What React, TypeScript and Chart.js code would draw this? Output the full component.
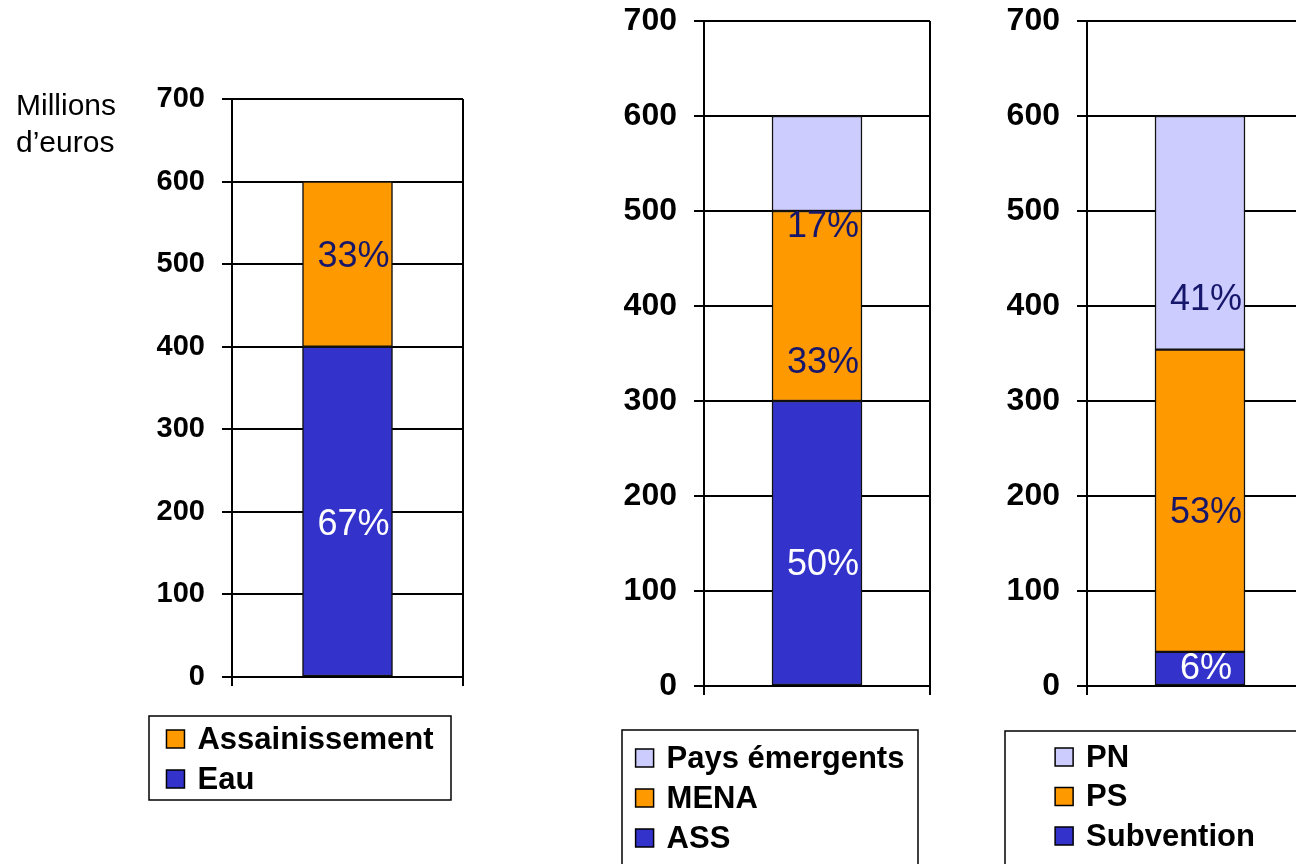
import { useEffect, useRef } from "react";
import { Chart, registerables } from "chart.js";

Chart.register(...registerables);

const FONT = '"Liberation Sans", Arial, Helvetica, sans-serif';

// ---------- Data ----------
const yMin = 0;
const yMax = 700;
const yStep = 100;

// Chart 1: Eau / Assainissement
const eauNames = ["Eau", "Assainissement"];
const eauValues = [400, 200];
const eauLabels = ["67%", "33%"];
const eauLabelAnchors = [184, 509];

// Chart 2: regions
const regionNames = ["ASS", "MENA", "Pays émergents"];
const regionValues = [300, 200, 100];
const regionLabels = ["50%", "33%", "17%"];
const regionLabelAnchors = [127, 340, 483];

// Chart 3: financing
const financeNames = ["Subvention", "PS", "PN"];
const financeValues = [36, 318, 246];
const financeLabels = ["6%", "53%", "41%"];
const financeLabelAnchors = [18, 182, 406];

const unitLines = ["Millions", "d\u2019euros"];

// ---------- Styles ----------
const BLUE = "#3333CC";
const ORANGE = "#FF9900";
const LAVENDER = "#CCCCFF";
const NAVY = "#16166a";

type Spec = {
  names: string[];
  values: number[];
  labels: string[];
  anchors: number[];
  colors: string[];
  labelColors: string[];
  canvasLeft: number;
  canvasW: number;
  area: { left: number; right: number; top: number; bottom: number };
  tickSize: number;
  legend: { x: number; y: number; w: number; h: number; rowStart: number; rowGap: number };
  sideText?: boolean;
};

const CANVAS_H = 864;
const X_AXIS_H = 10;

const specs: Spec[] = [
  {
    names: eauNames,
    values: eauValues,
    labels: eauLabels,
    anchors: eauLabelAnchors,
    colors: [BLUE, ORANGE],
    labelColors: ["#ffffff", NAVY],
    canvasLeft: 0,
    canvasW: 480,
    area: { left: 232, right: 463, top: 99, bottom: 677 },
    tickSize: 29,
    legend: { x: 149, y: 716, w: 302, h: 84, rowStart: 23, rowGap: 40 },
    sideText: true,
  },
  {
    names: regionNames,
    values: regionValues,
    labels: regionLabels,
    anchors: regionLabelAnchors,
    colors: [BLUE, ORANGE, LAVENDER],
    labelColors: ["#ffffff", NAVY, NAVY],
    canvasLeft: 480,
    canvasW: 480,
    area: { left: 224, right: 450, top: 21, bottom: 686 },
    tickSize: 32,
    legend: { x: 142, y: 730, w: 296, h: 200, rowStart: 28, rowGap: 40 },
  },
  {
    names: financeNames,
    values: financeValues,
    labels: financeLabels,
    anchors: financeLabelAnchors,
    colors: [BLUE, ORANGE, LAVENDER],
    labelColors: ["#ffffff", NAVY, NAVY],
    canvasLeft: 960,
    canvasW: 400,
    area: { left: 127, right: 353, top: 21, bottom: 686 },
    tickSize: 32,
    legend: { x: 45, y: 731, w: 300, h: 200, rowStart: 26, rowGap: 39.5 },
  },
];

function buildConfig(spec: Spec): any {
  const legendPlugin = {
    id: "boxLegend",
    afterDraw(chart: any) {
      const ctx = chart.ctx as CanvasRenderingContext2D;
      const L = spec.legend;
      const square = 18;
      const gap = 13;
      ctx.save();
      ctx.lineWidth = 1.5;
      ctx.strokeStyle = "#000";
      ctx.strokeRect(L.x, L.y, L.w, L.h);
      const ds = chart.data.datasets.slice().reverse();
      ctx.font = `bold 31px ${FONT}`;
      const textW = Math.max(...ds.map((d: any) => ctx.measureText(d.label).width));
      const groupW = square + gap + textW;
      const startX = L.x + (L.w - groupW) / 2;
      ds.forEach((d: any, i: number) => {
        const cy = L.y + L.rowStart + i * L.rowGap;
        ctx.fillStyle = d.backgroundColor;
        ctx.fillRect(startX, cy - square / 2, square, square);
        ctx.lineWidth = 1.5;
        ctx.strokeStyle = "#000";
        ctx.strokeRect(startX, cy - square / 2, square, square);
        ctx.fillStyle = "#000";
        ctx.textAlign = "left";
        ctx.textBaseline = "middle";
        ctx.fillText(d.label, startX + square + gap, cy + 1);
      });
      ctx.restore();
    },
  };

  const labelPlugin = {
    id: "pctLabels",
    afterDatasetsDraw(chart: any) {
      const ctx = chart.ctx as CanvasRenderingContext2D;
      const xs = chart.scales.x;
      const ys = chart.scales.y;
      ctx.save();
      ctx.font = `36px ${FONT}`;
      ctx.textAlign = "center";
      ctx.textBaseline = "middle";
      spec.labels.forEach((t, i) => {
        const x = xs.getPixelForValue(0) + 6;
        const y = ys.getPixelForValue(spec.anchors[i]);
        ctx.fillStyle = spec.labelColors[i];
        ctx.fillText(t, x, y);
      });
      ctx.restore();
    },
  };

  const sidePlugin = {
    id: "sideText",
    afterDraw(chart: any) {
      if (!spec.sideText) return;
      const ctx = chart.ctx as CanvasRenderingContext2D;
      ctx.save();
      ctx.font = `30px ${FONT}`;
      ctx.fillStyle = "#000";
      ctx.textAlign = "left";
      ctx.textBaseline = "alphabetic";
      unitLines.forEach((t, i) => ctx.fillText(t, 16, 115 + i * 37));
      ctx.restore();
    },
  };

  return {
    type: "bar",
    data: {
      labels: [""],
      datasets: spec.names.map((n, i) => ({
        label: n,
        data: [spec.values[i]],
        backgroundColor: spec.colors[i],
        borderColor: "#111",
        borderWidth: 1.5,
        borderSkipped: false,
        barThickness: 90,
        stack: "s",
      })),
    },
    plugins: [legendPlugin, labelPlugin, sidePlugin],
    options: {
      responsive: false,
      animation: false,
      devicePixelRatio: 1,
      events: [],
      layout: {
        padding: {
          left: 0,
          top: spec.area.top,
          right: spec.canvasW - spec.area.right,
          bottom: CANVAS_H - spec.area.bottom - X_AXIS_H,
        },
      },
      plugins: {
        legend: { display: false },
        tooltip: { enabled: false },
        title: { display: false },
      },
      scales: {
        x: {
          stacked: true,
          offset: true,
          grid: { offset: true, color: "#000", lineWidth: 2, tickLength: 9, drawTicks: true },
          border: { display: true, color: "#000", width: 2 },
          ticks: { display: false },
          afterFit: (s: any) => {
            s.height = X_AXIS_H;
            s.paddingLeft = 0;
            s.paddingRight = 0;
            s.paddingTop = 0;
            s.paddingBottom = 0;
          },
        },
        y: {
          stacked: true,
          min: yMin,
          max: yMax,
          ticks: {
            stepSize: yStep,
            color: "#000",
            padding: 17,
            font: { family: FONT, size: spec.tickSize, weight: "bold" },
          },
          grid: { color: "#000", lineWidth: 2, tickLength: 10 },
          border: { display: true, color: "#000", width: 2 },
          afterFit: (s: any) => {
            s.width = spec.area.left;
            s.paddingTop = 0;
            s.paddingBottom = 0;
            s.paddingLeft = 0;
            s.paddingRight = 0;
          },
        },
      },
    },
  };
}

export default function App() {
  const r1 = useRef<HTMLCanvasElement>(null);
  const r2 = useRef<HTMLCanvasElement>(null);
  const r3 = useRef<HTMLCanvasElement>(null);
  const refs = [r1, r2, r3];

  useEffect(() => {
    const charts = specs.map((s, i) => new Chart(refs[i].current as HTMLCanvasElement, buildConfig(s)));
    return () => charts.forEach((c) => c.destroy());
  }, []);

  return (
    <div
      style={{
        position: "absolute",
        left: 0,
        top: 0,
        width: 1296,
        height: 864,
        overflow: "hidden",
        background: "#fff",
      }}
    >
      {specs.map((s, i) => (
        <canvas
          key={i}
          ref={refs[i]}
          width={s.canvasW}
          height={CANVAS_H}
          style={{ position: "absolute", left: s.canvasLeft, top: 0, width: s.canvasW, height: CANVAS_H }}
        />
      ))}
    </div>
  );
}
